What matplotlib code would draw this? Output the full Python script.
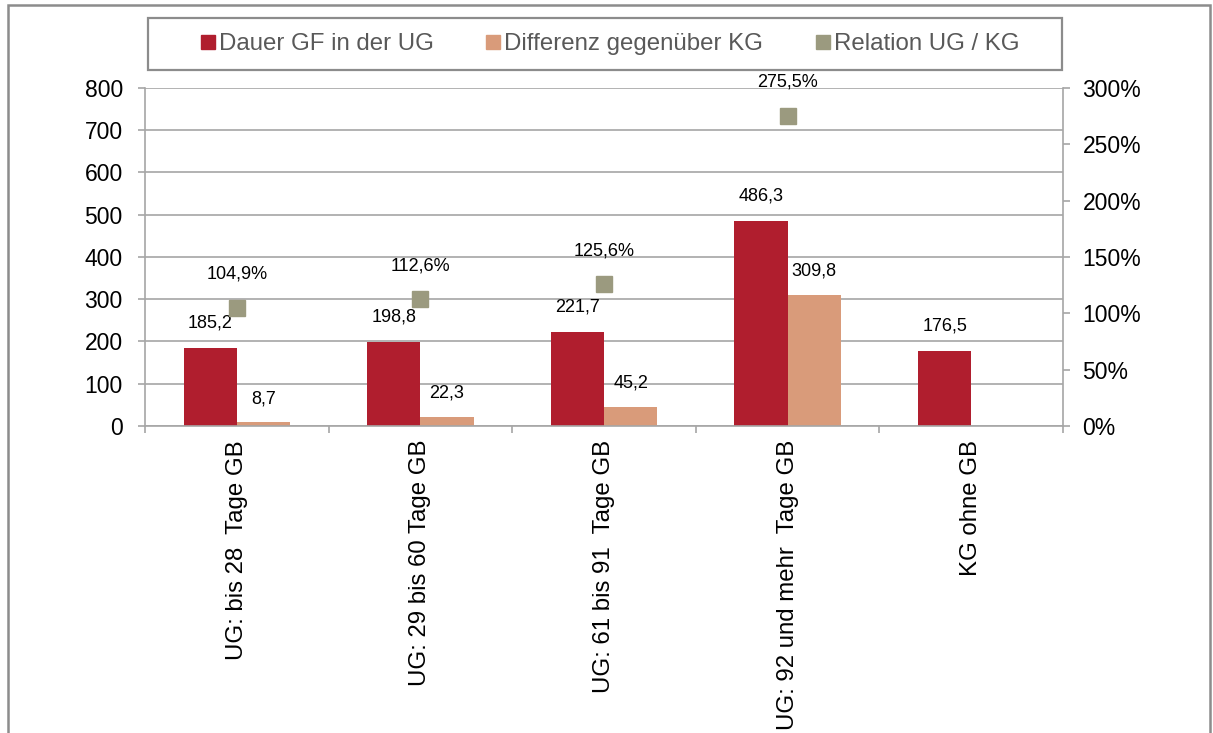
import numpy as np
import matplotlib
matplotlib.use('Agg')
import matplotlib.pyplot as plt
from matplotlib.patches import Rectangle
from matplotlib.lines import Line2D

plt.rcParams['font.family'] = ['Liberation Sans', 'DejaVu Sans']

# Daten
kategorien = ['UG: bis 28  Tage GB', 'UG: 29 bis 60 Tage GB', 'UG: 61 bis 91  Tage GB',
              'UG: 92 und mehr  Tage GB', 'KG ohne GB']
dauer_gf = [185.2, 198.8, 221.7, 486.3, 176.5]
differenz = [8.7, 22.3, 45.2, 309.8, np.nan]
relation = [104.9, 112.6, 125.6, 275.5, np.nan]

ROT = '#B01E2E'
ORANGE = '#D99B7A'
OLIV = '#9B9A7F'
GRAU = '#A6A6A6'

W, H = 1213, 733
fig = plt.figure(figsize=(W / 100, H / 100), dpi=100, facecolor='white')
ax = fig.add_axes([145 / W, 1 - 426 / H, 918 / W, 338 / H])
ax2 = ax.twinx()

x = np.arange(len(kategorien))
bw = 0.29
ax.bar(x - bw / 2, dauer_gf, bw, color=ROT, zorder=2)
ax.bar(x + bw / 2, differenz, bw, color=ORANGE, zorder=2)
ax2.plot(x, relation, 's', ms=11, color=OLIV, ls='none')

def fmt(v):
    return f'{v:.1f}'.replace('.', ',')

for xi, v in zip(x, dauer_gf):
    ax.annotate(fmt(v), (xi - bw / 2, v), xytext=(0, 18), textcoords='offset points',
                ha='center', va='center', fontsize=13)
for xi, v in zip(x, differenz):
    if not np.isnan(v):
        ax.annotate(fmt(v), (xi + bw / 2, v), xytext=(0, 17), textcoords='offset points',
                    ha='center', va='center', fontsize=13)
for xi, v in zip(x, relation):
    if not np.isnan(v):
        ax2.annotate(fmt(v) + '%', (xi, v), xytext=(0, 24), textcoords='offset points',
                     ha='center', va='center', fontsize=13)

# Achsen
ax.set_xlim(-0.5, len(kategorien) - 0.5)
ax.set_ylim(0, 800)
ax.set_yticks(np.arange(0, 801, 100))
ax2.set_ylim(0, 300)
ax2.set_yticks(np.arange(0, 301, 50))
ax2.set_yticklabels([f'{int(t)}%' for t in np.arange(0, 301, 50)])

ax.set_xticks(np.arange(-0.5, len(kategorien), 1))
ax.set_xticklabels([])
ax.set_xticks(x, minor=True)
ax.set_xticklabels(kategorien, minor=True, rotation=90, va='top', ha='center', fontsize=17.3)
ax.tick_params(axis='x', which='minor', length=0, pad=10)
ax.tick_params(axis='x', which='major', length=5, width=1.2, color=GRAU, direction='out')
ax.tick_params(axis='y', length=5, width=1.2, color=GRAU, labelsize=16.5, pad=11)
ax2.tick_params(axis='y', length=5, width=1.2, color=GRAU, labelsize=16.5, pad=9)

ax.set_axisbelow(True)
ax.yaxis.grid(True, color=GRAU, linewidth=1.2)
ax.spines['top'].set_visible(False)
ax.spines['right'].set_visible(False)
for s in ['left', 'bottom']:
    ax.spines[s].set_color(GRAU)
    ax.spines[s].set_linewidth(1.2)
for s in ['top', 'left', 'bottom']:
    ax2.spines[s].set_visible(False)
ax2.spines['right'].set_color(GRAU)
ax2.spines['right'].set_linewidth(1.2)

# Rahmen
fig.add_artist(Rectangle((8 / W, -0.05), 1202 / W, 1.05 - 5 / H, transform=fig.transFigure,
                         fill=False, edgecolor='#8C8C8C', linewidth=1.8))
fig.add_artist(Rectangle((148 / W, 1 - 70 / H), 914 / W, 52 / H, transform=fig.transFigure,
                         fill=False, edgecolor='#8C8C8C', linewidth=1.6))

# Legende
handles = [Line2D([], [], marker='s', ls='none', color=c, ms=10) for c in (ROT, ORANGE, OLIV)]
labels = ['Dauer GF in der UG', 'Differenz gegenüber KG', 'Relation UG / KG']
fig.legend(handles, labels, loc='center', bbox_to_anchor=(610 / W, 1 - 44 / H), ncol=3,
           frameon=False, fontsize=17.3, handlelength=0.6, handletextpad=0.15,
           columnspacing=2.2, labelcolor='#595959')

fig.savefig('out.png', dpi=100, facecolor='white')
